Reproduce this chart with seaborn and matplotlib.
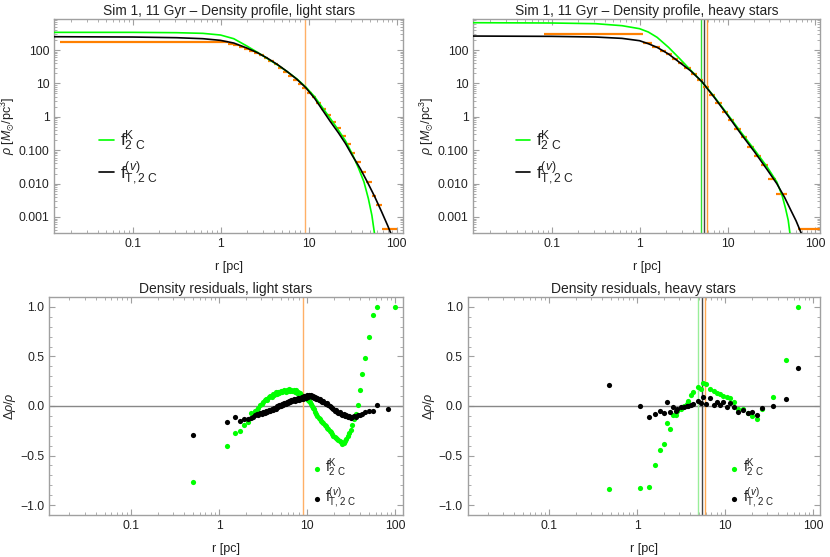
import numpy as np
import matplotlib
matplotlib.use("Agg")
import matplotlib.pyplot as plt
import matplotlib.ticker as mticker
import seaborn as sns

# ---------------- data ----------------
# model curves, light stars, as log10 r [pc] / log10 rho [Msun/pc^3]
lr_curve_light = [-1.95, -1.0, -0.5, -0.2, 0.0, 0.15, 0.30, 0.42, 0.53, 0.65, 0.76, 0.87,
                  0.97, 1.07, 1.16, 1.25, 1.34, 1.42, 1.50, 1.59, 1.67, 1.75, 1.83, 1.90, 1.94]
lrho_tc_light = [2.40, 2.39, 2.37, 2.34, 2.29, 2.21, 2.06, 1.92, 1.76, 1.56, 1.35, 1.12,
                 0.87, 0.55, 0.20, -0.15, -0.48, -0.80, -1.17, -1.56, -1.96, -2.38, -2.84, -3.26, -3.52]
lr_king_light = [-1.95, -1.0, -0.5, -0.2, 0.0, 0.15, 0.30, 0.42, 0.53, 0.65, 0.76, 0.87,
                 0.97, 1.07, 1.16, 1.25, 1.34, 1.42, 1.50, 1.57, 1.63, 1.68, 1.72, 1.75]
lrho_king_light = [2.53, 2.53, 2.52, 2.50, 2.45, 2.34, 2.12, 1.93, 1.75, 1.55, 1.35, 1.13,
                   0.89, 0.60, 0.27, -0.06, -0.40, -0.72, -1.13, -1.55, -1.95, -2.45, -2.95, -3.5]

# model curves, heavy stars
lr_curve_heavy = [-1.95, -1.0, -0.5, -0.2, 0.0, 0.1, 0.2, 0.33, 0.45, 0.58, 0.71, 0.85,
                  1.0, 1.15, 1.31, 1.45, 1.56, 1.65, 1.72, 1.78, 1.84]
lrho_tc_heavy = [2.42, 2.41, 2.39, 2.35, 2.28, 2.19, 2.08, 1.88, 1.64, 1.38, 1.05, 0.58,
                 0.05, -0.50, -1.06, -1.58, -2.0, -2.42, -2.80, -3.12, -3.5]
lr_king_heavy = [-1.95, -1.0, -0.5, -0.2, 0.0, 0.1, 0.2, 0.33, 0.45, 0.58, 0.71, 0.85,
                 1.0, 1.15, 1.31, 1.45, 1.56, 1.62, 1.66, 1.69, 1.71]
lrho_king_heavy = [2.82, 2.81, 2.79, 2.73, 2.64, 2.54, 2.38, 2.08, 1.76, 1.40, 1.05, 0.60,
                   0.08, -0.45, -1.00, -1.50, -1.95, -2.35, -2.75, -3.1, -3.5]

# binned N-body densities: mean radius, bin edges [pc], density
r_bin_light = [0.6, 1.3, 1.5, 1.725, 1.975, 2.25, 2.575, 2.925, 3.3, 3.75, 4.25, 4.8, 5.45,
               6.2, 7.05, 8.0, 9.05, 10.25, 11.6, 13.15, 14.95, 16.95, 19.25, 21.9, 24.9,
               28.25, 32.0, 36.5, 42.0, 48.5, 55.5, 63.5, 84.0]
bin_lo_light = [0.015, 1.2, 1.4, 1.6, 1.85, 2.1, 2.4, 2.75, 3.1, 3.5, 4.0, 4.5, 5.1, 5.8, 6.6,
                7.5, 8.5, 9.6, 10.9, 12.3, 14.0, 15.9, 18.0, 20.5, 23.3, 26.5, 30.0, 34.0,
                39.0, 45.0, 52.0, 59.0, 68.0]
bin_hi_light = [1.2, 1.4, 1.6, 1.85, 2.1, 2.4, 2.75, 3.1, 3.5, 4.0, 4.5, 5.1, 5.8, 6.6, 7.5,
                8.5, 9.6, 10.9, 12.3, 14.0, 15.9, 18.0, 20.5, 23.3, 26.5, 30.0, 34.0, 39.0,
                45.0, 52.0, 59.0, 68.0, 100.0]
rho_bin_light = [170, 150, 138, 122, 108, 96, 82, 70, 57, 46, 37, 29, 22, 16.5, 12.5, 9.6,
                 7.2, 5.3, 3.8, 2.6, 1.75, 1.15, 0.72, 0.45, 0.26, 0.15, 0.085, 0.045, 0.022,
                 0.0115, 0.0043, 0.0023, 0.00043]

r_bin_heavy = [0.59, 1.25, 1.55, 1.85, 2.175, 2.55, 2.975, 3.5, 4.15, 4.9, 5.75, 6.75, 7.95,
               9.4, 11.1, 13.1, 15.5, 18.4, 22.0, 26.5, 32.5, 41.5, 68.0]
bin_lo_heavy = [0.083, 1.1, 1.4, 1.7, 2.0, 2.35, 2.75, 3.2, 3.8, 4.5, 5.3, 6.2, 7.3, 8.6,
                10.2, 12.0, 14.2, 16.8, 20.0, 24.0, 29.0, 36.0, 63.0]
bin_hi_heavy = [1.1, 1.4, 1.7, 2.0, 2.35, 2.75, 3.2, 3.8, 4.5, 5.3, 6.2, 7.3, 8.6, 10.2,
                12.0, 14.2, 16.8, 20.0, 24.0, 29.0, 36.0, 47.0, 130.0]
rho_bin_heavy = [300, 165, 123, 95, 74, 54, 40, 29, 19.5, 12.6, 7.8, 4.5, 2.6, 1.42, 0.78,
                 0.43, 0.245, 0.129, 0.068, 0.035, 0.014, 0.0048, 0.00043]

# characteristic radii (vertical lines)
r_line_light = 9.1
r_line_heavy_king = 4.95
r_line_heavy_tc = 5.45
r_line_heavy_data = 5.9

# residuals (r [pc], King fit, tidal fit); None = point not shown for that model
res_light = [
    (0.51, -0.77, -0.29), (1.22, -0.40, -0.16), (1.51, -0.27, -0.11), (1.73, -0.25, -0.15),
    (1.94, -0.19, -0.13), (2.14, -0.16, -0.13), (2.29, -0.07, -0.12), (2.43, -0.08, -0.11),
    (2.55, -0.05, -0.09), (2.68, -0.04, -0.08), (2.8, -0.02, -0.09), (2.92, 0.01, -0.07),
    (3.05, 0.02, -0.08), (3.18, 0.04, -0.06), (3.3, 0.06, -0.07), (3.42, 0.07, -0.05),
    (3.55, 0.06, -0.06), (3.68, 0.09, -0.04), (3.82, 0.10, -0.05), (3.96, 0.09, -0.03),
    (4.1, 0.12, -0.04), (4.25, 0.11, -0.02), (4.4, 0.14, -0.03), (4.55, 0.12, 0.00),
    (4.7, 0.14, -0.01), (4.86, 0.13, 0.01), (5.02, 0.15, 0.00), (5.18, 0.14, 0.02),
    (5.35, 0.15, 0.01), (5.52, 0.16, 0.03), (5.7, 0.14, 0.02), (5.88, 0.16, 0.04),
    (6.06, 0.15, 0.03), (6.24, 0.17, 0.05), (6.43, 0.15, 0.04), (6.62, 0.16, 0.06),
    (6.82, 0.15, 0.05), (7.02, 0.16, 0.07), (7.22, 0.14, 0.05), (7.43, 0.16, 0.07),
    (7.65, 0.13, 0.06), (7.87, 0.14, 0.08), (8.1, 0.12, 0.06), (8.33, 0.13, 0.08),
    (8.57, 0.11, 0.07), (8.82, 0.10, 0.09), (9.08, 0.10, 0.07), (9.35, 0.08, 0.10),
    (9.62, 0.09, 0.08), (9.9, 0.07, 0.11), (10.2, 0.06, 0.09), (10.5, 0.05, 0.11),
    (10.8, 0.04, 0.10), (11.1, 0.02, 0.11), (11.4, 0.00, 0.09), (11.7, -0.02, 0.10),
    (12.0, -0.03, 0.08), (12.35, -0.06, 0.09), (12.7, -0.08, 0.07), (13.1, -0.10, 0.08),
    (13.5, -0.12, 0.06), (13.9, -0.13, 0.07), (14.35, -0.15, 0.05), (14.8, -0.16, 0.04),
    (15.3, -0.17, 0.05), (15.8, -0.19, 0.03), (16.3, -0.20, 0.02), (16.85, -0.22, 0.03),
    (17.4, -0.23, 0.01), (18.0, -0.25, 0.00), (18.6, -0.26, -0.01), (19.2, -0.28, -0.02),
    (19.85, -0.30, -0.03), (20.5, -0.31, -0.05), (21.2, -0.32, -0.04), (21.9, -0.33, -0.06),
    (22.7, -0.34, -0.07), (23.5, -0.35, -0.06), (24.3, -0.36, -0.08), (25.2, -0.38, -0.09),
    (26.1, -0.37, -0.08), (27.0, -0.35, -0.10), (28.0, -0.33, -0.09), (29.0, -0.30, -0.11),
    (30.1, -0.27, -0.10), (31.3, -0.24, -0.12), (32.5, -0.19, -0.11), (34.0, -0.13, -0.10),
    (35.7, -0.08, -0.11), (38.0, 0.01, -0.09), (40.0, 0.16, -0.09), (42.2, 0.32, -0.08),
    (45.2, 0.48, -0.06), (50.2, 0.70, -0.05), (56.0, 0.92, -0.05), (63.0, 1.0, 0.01),
    (84.0, None, -0.03), (100.0, 1.0, None),
]
res_heavy = [
    (0.48, -0.84, 0.21), (1.08, -0.83, 0.0), (1.35, -0.82, -0.11), (1.59, -0.60, -0.08),
    (1.80, -0.44, -0.05), (2.0, -0.38, -0.07), (2.17, -0.17, 0.04), (2.36, -0.23, -0.06),
    (2.58, -0.09, -0.01), (2.74, -0.09, -0.05), (2.88, -0.05, -0.03), (3.14, -0.03, -0.01),
    (3.43, 0.0, -0.01), (3.65, 0.02, 0.0), (3.82, 0.05, 0.0), (4.09, 0.11, 0.01),
    (4.38, 0.14, 0.02), (4.87, 0.19, 0.05), (5.31, 0.17, 0.03), (5.65, 0.23, 0.09),
    (6.06, 0.22, 0.02), (6.78, 0.17, 0.08), (7.4, 0.15, 0.01), (8.2, 0.13, 0.04),
    (8.8, 0.12, 0.01), (9.5, 0.10, 0.04), (10.5, 0.09, -0.01), (11.4, 0.08, 0.03),
    (12.7, 0.04, -0.01), (13.9, -0.03, -0.06), (15.8, -0.03, -0.04), (18.0, -0.07, -0.07),
    (20.0, -0.10, -0.06), (22.8, -0.13, -0.09), (26.0, -0.03, -0.02), (35.0, 0.09, 0.0),
    (49.0, 0.46, 0.07), (68.0, 1.0, 0.38),
]

# ---------------- style ----------------
sns.set_style("ticks")
plt.rcParams["font.family"] = ["Liberation Sans", "DejaVu Sans"]
plt.rcParams["mathtext.fontset"] = "custom"
plt.rcParams["mathtext.rm"] = "Liberation Sans"
plt.rcParams["mathtext.it"] = "Liberation Sans:italic"
plt.rcParams["mathtext.sf"] = "Liberation Sans"
plt.rcParams["mathtext.fallback"] = "stixsans"
plt.rcParams["axes.unicode_minus"] = True

GREEN = "#00ff00"
ORANGE = "#ff8000"
FRAME = "#a0a0a0"
TXT = "#222222"

lab_king = r"$\mathrm{f}^{\mathrm{K}}_{\mathrm{2\ C}}$"
lab_tc = r"$\mathrm{f}^{(v)}_{\mathrm{T,2\ C}}$"

fig = plt.figure(figsize=(8.3, 5.57), dpi=100)
W, H = 830.0, 557.0


def add_ax(x0, x1, y0, y1):
    return fig.add_axes([x0 / W, 1 - y1 / H, (x1 - x0) / W, (y1 - y0) / H])


ax_tl = add_ax(54.3, 403, 19, 233)
ax_tr = add_ax(473.3, 820, 19, 233)
ax_bl = add_ax(49, 403, 297, 515)
ax_br = add_ax(467.7, 820, 297, 515)


def frame_style(ax):
    ax.set_xscale("log")
    for s in ax.spines.values():
        s.set_color(FRAME)
        s.set_linewidth(1.0)
    ax.tick_params(which="both", direction="in", top=True, right=True,
                   color=FRAME, labelcolor=TXT, labelsize=8.8)
    ax.tick_params(which="major", length=4, width=0.8)
    ax.tick_params(which="minor", length=2.2, width=0.6)
    ax.xaxis.set_major_locator(mticker.FixedLocator([0.1, 1, 10, 100]))
    ax.xaxis.set_major_formatter(mticker.FixedFormatter(["0.1", "1", "10", "100"]))
    ax.xaxis.set_minor_locator(mticker.LogLocator(base=10, subs=np.arange(2, 10), numticks=20))
    ax.xaxis.set_minor_formatter(mticker.NullFormatter())
    ax.set_xlabel("r [pc]", fontsize=9, color=TXT, labelpad=8)


def profile_panel(ax, title, lr_tc, lrho_tc, lr_k, lrho_k, rc, lo, hi, rho, xlim, leg_x):
    frame_style(ax)
    sns.lineplot(x=10 ** np.array(lr_k), y=10 ** np.array(lrho_k), ax=ax, color=GREEN,
                 lw=1.2, estimator=None, sort=False, label=lab_king, zorder=3)
    sns.lineplot(x=10 ** np.array(lr_tc), y=10 ** np.array(lrho_tc), ax=ax, color="black",
                 lw=1.2, estimator=None, sort=False, label=lab_tc, zorder=4)
    rc = np.array(rc, dtype=float)
    lo = np.array(lo, dtype=float)
    hi = np.array(hi, dtype=float)
    rho = np.array(rho, dtype=float)
    ax.errorbar(rc, rho, xerr=[rc - lo, hi - rc], yerr=rho * 0.06,
                fmt="none", ecolor=ORANGE, elinewidth=1.6, zorder=2)
    ax.set_yscale("log")
    ax.set_xlim(*xlim)
    ax.set_ylim(10 ** -3.48, 10 ** 2.93)
    ax.yaxis.set_major_locator(mticker.FixedLocator([1e-3, 1e-2, 1e-1, 1, 10, 100]))
    ax.yaxis.set_major_formatter(mticker.FixedFormatter(
        ["0.001", "0.010", "0.100", "1", "10", "100"]))
    ax.yaxis.set_minor_locator(mticker.LogLocator(base=10, subs=np.arange(2, 10), numticks=20))
    ax.yaxis.set_minor_formatter(mticker.NullFormatter())
    ax.set_ylabel(r"$\rho$ [$M_{\odot}$/pc$^3$]", fontsize=9, color=TXT)
    ax.yaxis.set_label_coords(-0.108, 0.5)
    ax.set_title(title, fontsize=9.9, color=TXT, pad=3)
    leg = ax.legend(loc="center left", bbox_to_anchor=(leg_x, 0.353), frameon=False,
                    fontsize=12.5, handlelength=0.85, handletextpad=0.35,
                    labelspacing=0.35, borderpad=0, borderaxespad=0)
    for t in leg.get_texts():
        t.set_color(TXT)


def residual_panel(ax, title, rows, xlim, leg_x):
    frame_style(ax)
    ax.axhline(0, color="#888888", lw=1.0, zorder=1)
    rk = [row[0] for row in rows if row[1] is not None]
    vk = [row[1] for row in rows if row[1] is not None]
    rt = [row[0] for row in rows if row[2] is not None]
    vt = [row[2] for row in rows if row[2] is not None]
    sns.scatterplot(x=rk, y=vk, ax=ax, color=GREEN, s=14, linewidth=0, label=lab_king, zorder=3)
    sns.scatterplot(x=rt, y=vt, ax=ax, color="black", s=14, linewidth=0, label=lab_tc, zorder=4)
    ax.set_xlim(*xlim)
    ax.set_ylim(-1.1, 1.1)
    ax.yaxis.set_major_locator(mticker.FixedLocator([-1, -0.5, 0, 0.5, 1]))
    ax.yaxis.set_major_formatter(mticker.FixedFormatter(
        ["\u22121.0", "\u22120.5", "0.0", "0.5", "1.0"]))
    ax.yaxis.set_minor_locator(mticker.MultipleLocator(0.1))
    ax.set_ylabel(r"$\Delta\rho/\rho$", fontsize=9, color=TXT)
    ax.yaxis.set_label_coords(-0.088, 0.5)
    ax.set_title(title, fontsize=10, color=TXT, pad=3)
    leg = ax.legend(loc="center left", bbox_to_anchor=(leg_x, 0.144), frameon=False,
                    fontsize=10, handlelength=0.8, handletextpad=0.2, labelspacing=0.45,
                    borderpad=0, borderaxespad=0, markerscale=1.0)
    for t in leg.get_texts():
        t.set_color(TXT)


profile_panel(ax_tl, "Sim 1, 11 Gyr \u2013 Density profile, light stars",
              lr_curve_light, lrho_tc_light, lr_king_light, lrho_king_light,
              r_bin_light, bin_lo_light, bin_hi_light, rho_bin_light, (0.0129, 118.5), 0.128)
ax_tl.axvline(r_line_light, color="#ffb066", lw=1.0, zorder=1)

profile_panel(ax_tr, "Sim 1, 11 Gyr \u2013 Density profile, heavy stars",
              lr_curve_heavy, lrho_tc_heavy, lr_king_heavy, lrho_king_heavy,
              r_bin_heavy, bin_lo_heavy, bin_hi_heavy, rho_bin_heavy, (0.0129, 112.5), 0.122)
ax_tr.axvline(r_line_heavy_king, color="#33dd33", lw=1.0, zorder=1)
ax_tr.axvline(r_line_heavy_tc, color="#444444", lw=1.0, zorder=1)
ax_tr.axvline(r_line_heavy_data, color="#ff9933", lw=1.0, zorder=1)

residual_panel(ax_bl, "Density residuals, light stars", res_light, (0.0117, 123), 0.740)
ax_bl.axvline(r_line_light, color="#ffb066", lw=1.0, zorder=1)

residual_panel(ax_br, "Density residuals, heavy stars", res_heavy, (0.0119, 120), 0.741)
ax_br.axvline(r_line_heavy_king, color="#99ee99", lw=1.0, zorder=1)
ax_br.axvline(r_line_heavy_tc, color="#444444", lw=1.0, zorder=1)
ax_br.axvline(r_line_heavy_data, color="#ffaa55", lw=1.0, zorder=1)

fig.savefig("out.png", dpi=100)
